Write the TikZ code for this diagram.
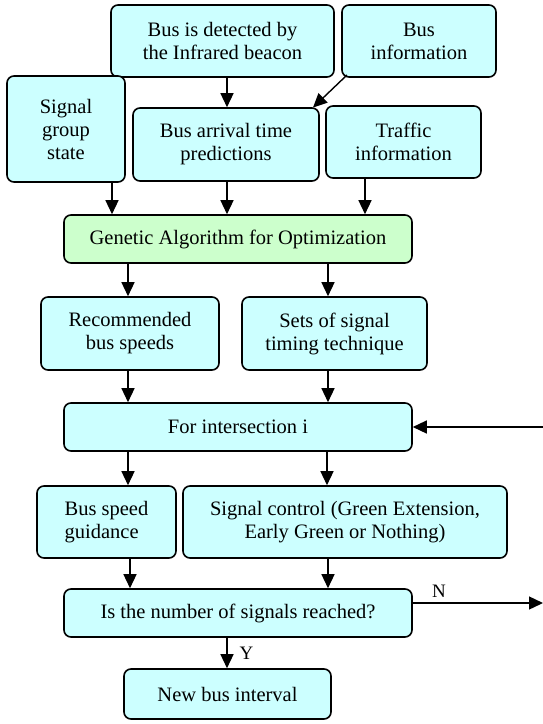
\documentclass[tikz,border=0pt]{standalone}
\usepackage{fontspec}
\setmainfont{Liberation Serif}
\usetikzlibrary{arrows.meta}
\definecolor{boxcyan}{HTML}{CCFFFF}
\definecolor{boxgreen}{HTML}{CCFFCC}
\begin{document}
\begin{tikzpicture}[x=1pt,y=-1pt,
  bx/.style={draw=black, line width=1.6pt, rounded corners=7pt, fill=boxcyan, inner sep=0pt, align=center,
    font=\fontsize{20.5}{23}\selectfont},
  arr/.style={line width=1.4pt, -{Triangle[length=14pt,width=13pt]}},
  lbl/.style={font=\fontsize{19}{21}\selectfont, inner sep=0pt}]
\useasboundingbox (0,0) rectangle (543,724);
% boxes: center, width, height
\node[bx, minimum width=223pt, minimum height=72pt] (det) at (222.5,41) {Bus is detected by\\the Infrared beacon};
\node[bx, minimum width=154pt, minimum height=72pt] (binf) at (419,41) {Bus\\information};
\node[bx, minimum width=118pt, minimum height=106pt] (sg) at (66,129) {Signal\\group\\state};
\node[bx, minimum width=186pt, minimum height=73pt] (bat) at (226,144.5) {Bus arrival time\\predictions};
\node[bx, minimum width=155pt, minimum height=72pt] (traf) at (403.5,142) {Traffic\\information};
\node[bx, fill=boxgreen, minimum width=348pt, minimum height=48pt] (ga) at (238,239) {Genetic Algorithm for Optimization};
\node[bx, minimum width=178pt, minimum height=73pt] (rec) at (130,333.5) {Recommended\\bus speeds};
\node[bx, minimum width=185pt, minimum height=73pt] (sets) at (334.5,333.5) {Sets of signal\\timing technique};
\node[bx, minimum width=348pt, minimum height=48pt] (inter) at (238,427) {For intersection i};
\node[bx, minimum width=139pt, minimum height=72pt, align=left] (bsg) at (106.5,522) {Bus speed\\guidance};
\node[bx, minimum width=324pt, minimum height=72pt] (sc) at (345,522) {Signal control (Green Extension,\\Early Green or Nothing)};
\node[bx, minimum width=348pt, minimum height=48pt] (isn) at (238,613) {Is the number of signals reached?};
\node[bx, minimum width=207pt, minimum height=50pt] (nbi) at (227.5,694) {New bus interval};
% connectors
\draw[arr] (det.south -| 227,0) -- (bat.north -| 227,0);
\coordinate (bi1) at (347,75);
\coordinate (bi2) at (313,107.5);
\draw[arr] (bi1) -- (bi2);
\draw[arr] (sg.south -| 112,0) -- (ga.north -| 112,0);
\draw[arr] (bat.south -| 227,0) -- (ga.north -| 227,0);
\draw[arr] (traf.south -| 365,0) -- (ga.north -| 365,0);
\draw[arr] (ga.south -| 128,0) -- (rec.north -| 128,0);
\draw[arr] (ga.south -| 328,0) -- (sets.north -| 328,0);
\draw[arr] (rec.south -| 128,0) -- (inter.north -| 128,0);
\draw[arr] (sets.south -| 328,0) -- (inter.north -| 328,0);
\draw[arr] (inter.south -| 128,0) -- (bsg.north -| 128,0);
\draw[arr] (inter.south -| 327,0) -- (sc.north -| 327,0);
\draw[arr] (bsg.south -| 130,0) -- (isn.north -| 130,0);
\draw[arr] (sc.south -| 328,0) -- (isn.north -| 328,0);
\draw[arr] (isn.south -| 227,0) -- (nbi.north -| 227,0) node[lbl, midway, right=12pt] (y) {Y};
\coordinate (retin) at (543,427);
\draw[arr] (retin) -- (inter.east);
\coordinate (nout) at (543,603);
\draw[arr] (isn.east |- nout) -- (nout);
\node[lbl] (n) at (439,591) {N};
\end{tikzpicture}
\end{document}
